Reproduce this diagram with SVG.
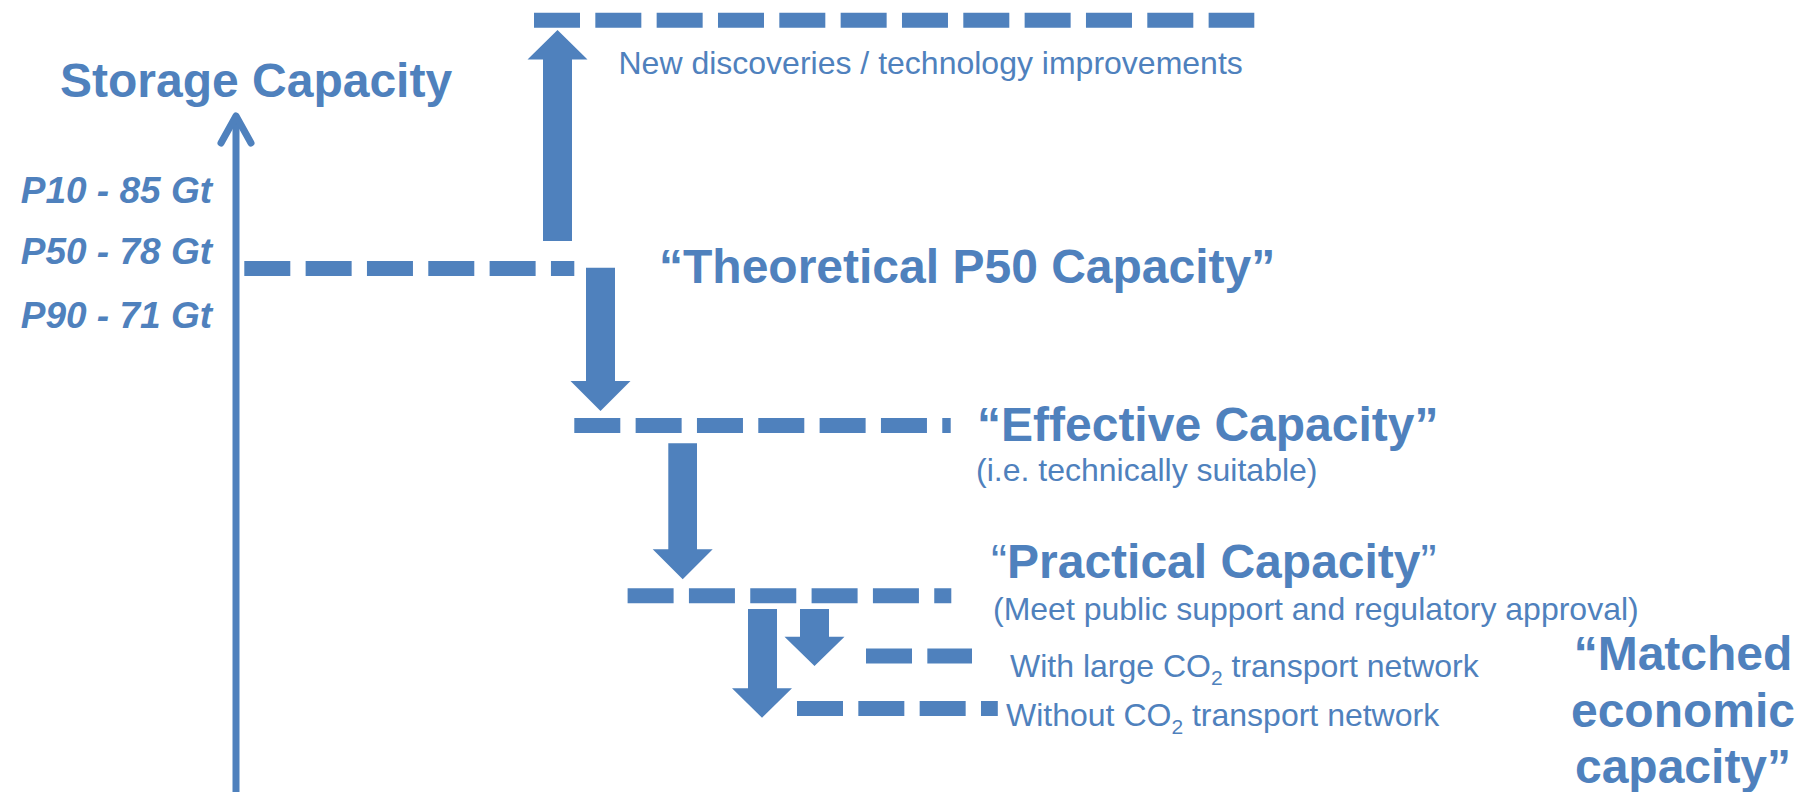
<svg xmlns="http://www.w3.org/2000/svg" width="1808" height="792" viewBox="0 0 1808 792">
  <style>
    .lvl { stroke: #4F81BD; stroke-width: 15; stroke-dasharray: 46 15.33; fill: none; }
    .big { font-family: "Liberation Sans", Arial, sans-serif; font-weight: bold; font-size: 48px; fill: #4F81BD; }
    .small { font-family: "Liberation Sans", Arial, sans-serif; font-size: 32px; fill: #4F81BD; }
    .pval { font-family: "Liberation Sans", Arial, sans-serif; font-weight: bold; font-style: italic; font-size: 37px; fill: #4F81BD; text-anchor: end; }
    .block { fill: #4F81BD; }
    .q { font-weight: normal; }
  </style>
  <rect width="1808" height="792" fill="#FFFFFF"/>

  <!-- vertical axis -->
  <g id="axis">
    <line x1="236" y1="792" x2="236" y2="118" stroke="#4F81BD" stroke-width="7"/>
    <polyline points="221,143 236,116 251,143" fill="none" stroke="#4F81BD" stroke-width="7" stroke-linecap="round" stroke-linejoin="round"/>
    <text class="big" x="60" y="97">Storage Capacity</text>
    <text class="pval" x="212" y="203">P10 - 85 Gt</text>
    <text class="pval" x="212" y="264">P50 - 78 Gt</text>
    <text class="pval" x="212" y="328">P90 - 71 Gt</text>
  </g>

  <g id="new-discoveries">
    <line class="lvl" x1="534" y1="20.2" x2="1254.3" y2="20.2"/>
    <text class="small" x="618.5" y="74">New discoveries / technology improvements</text>
  </g>

  <g id="theoretical">
    <line class="lvl" x1="244.3" y1="268.5" x2="574.3" y2="268.5"/>
    <text class="big" x="659" y="283">“Theoretical P50 Capacity”</text>
  </g>

  <g id="effective">
    <line class="lvl" x1="574.3" y1="425.5" x2="950.7" y2="425.5"/>
    <text class="big" x="977" y="441">“Effective Capacity”</text>
    <text class="small" x="976" y="481">(i.e. technically suitable)</text>
  </g>

  <g id="practical">
    <line class="lvl" x1="627.6" y1="595.8" x2="951.3" y2="595.8"/>
    <text class="big" x="991" y="578"><tspan class="q">“</tspan>Practical Capacity<tspan class="q">”</tspan></text>
    <text class="small" x="993" y="620">(Meet public support and regulatory approval)</text>
  </g>

  <g id="with-network">
    <line class="lvl" x1="866" y1="656" x2="972" y2="656"/>
    <text class="small" x="1010" y="677">With large CO<tspan font-size="21" dy="8">2</tspan><tspan dy="-8"> transport network</tspan></text>
  </g>

  <g id="without-network">
    <line class="lvl" x1="797" y1="708.5" x2="997.8" y2="708.5"/>
    <text class="small" x="1006" y="726">Without CO<tspan font-size="21" dy="8">2</tspan><tspan dy="-8"> transport network</tspan></text>
  </g>

  <g id="matched">
    <text class="big" text-anchor="middle" x="1683" y="670">“Matched</text>
    <text class="big" text-anchor="middle" x="1683" y="727">economic</text>
    <text class="big" text-anchor="middle" x="1683" y="783">capacity”</text>
  </g>

  <!-- block arrows between capacity levels -->
  <g id="connectors">
    <polygon class="block" points="543,241 572,241 572,59.5 587.5,59.5 557.5,30 527.5,59.5 543,59.5"/>
    <polygon class="block" points="586,267.7 615,267.7 615,381 630.5,381 600.5,411 570.5,381 586,381"/>
    <polygon class="block" points="668.3,443.3 697,443.3 697,549.3 712.7,549.3 682.7,579.3 652.7,549.3 668.3,549.3"/>
    <polygon class="block" points="748,609 777,609 777,688.3 792,688.3 762,717.7 732,688.3 748,688.3"/>
    <polygon class="block" points="800,609 829,609 829,636.7 844.5,636.7 814.5,666 784.5,636.7 800,636.7"/>
  </g>
</svg>
